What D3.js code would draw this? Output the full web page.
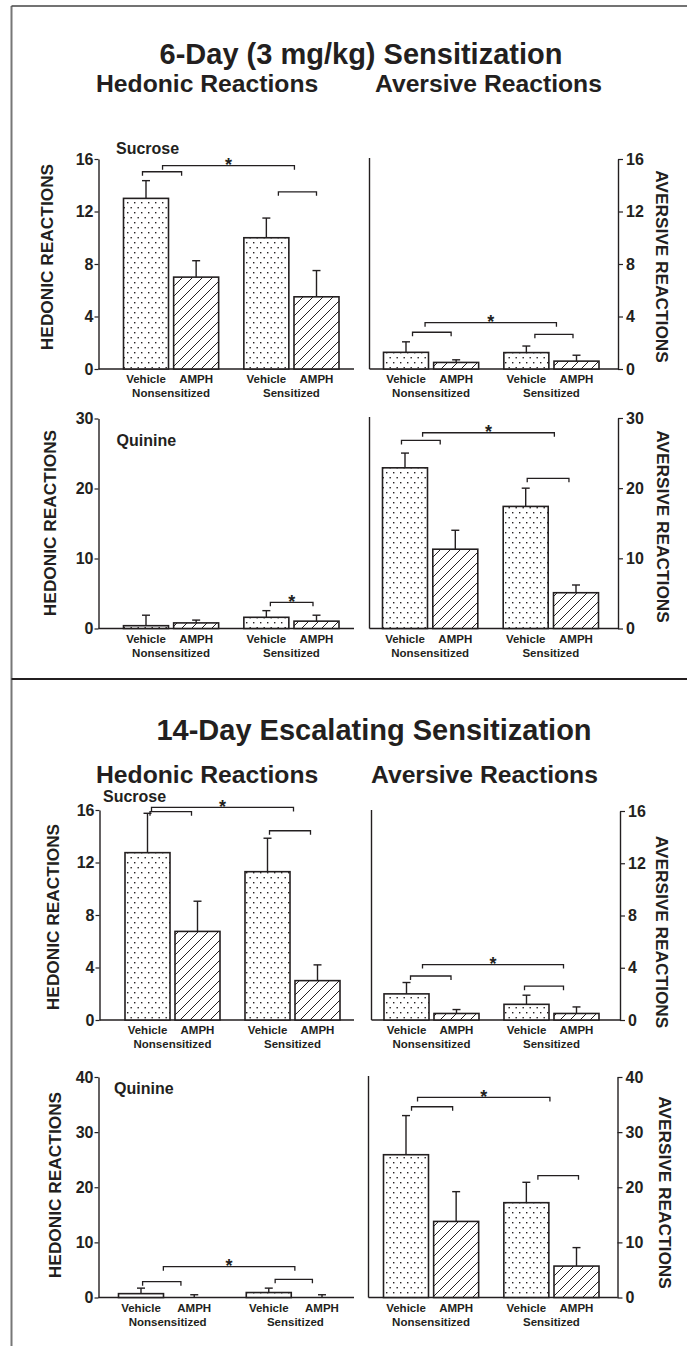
<!DOCTYPE html>
<html>
<head>
<meta charset="utf-8">
<script src="https://cdn.jsdelivr.net/npm/d3@7"></script>
<style>
    body { margin: 0; background: #fff; }
    svg { display: block; }
    text { font-family: "Liberation Sans", Arial, sans-serif; font-weight: bold; fill: #231f20; }
</style>
</head>
<body>
<div id="chart"></div>
<script>

// DATA

const treatments = ['Vehicle', 'AMPH', 'Vehicle', 'AMPH'];
const groups = ['Nonsensitized', 'Sensitized'];

// 6-day (3 mg/kg)
const sd_sucrose_hedonic = [13.0, 7.0, 10.0, 5.5];
const sd_sucrose_hedonic_sem = [1.35, 1.25, 1.5, 2.0];
const sd_sucrose_aversive = [1.27, 0.5, 1.25, 0.6];
const sd_sucrose_aversive_sem = [0.8, 0.2, 0.5, 0.45];
const sd_quinine_hedonic = [0.4, 0.8, 1.6, 1.05];
const sd_quinine_hedonic_sem = [1.5, 0.4, 0.95, 0.85];
const sd_quinine_aversive = [22.9, 11.3, 17.4, 5.1];
const sd_quinine_aversive_sem = [2.1, 2.7, 2.6, 1.1];

// 14-day escalating
const fd_sucrose_hedonic = [12.75, 6.75, 11.3, 3.0];
const fd_sucrose_hedonic_sem = [3.0, 2.3, 2.55, 1.2];
const fd_sucrose_aversive = [2.0, 0.5, 1.2, 0.5];
const fd_sucrose_aversive_sem = [0.87, 0.3, 0.7, 0.5];
const fd_quinine_hedonic = [0.7, 0, 0.9, 0];
const fd_quinine_hedonic_sem = [1.0, 0.5, 0.8, 0.5];
const fd_quinine_aversive = [25.9, 13.8, 17.2, 5.7];
const fd_quinine_aversive_sem = [7.1, 5.4, 3.7, 3.35];

const sucrose_ticks = [0, 4, 8, 12, 16];
const sd_quinine_ticks = [0, 10, 20, 30];
const fd_quinine_ticks = [0, 10, 20, 30, 40];

// significance brackets: [from slot, to slot, height, star]
const sd_sucrose_hedonic_brackets = [[-0.07, 0.71, 15.03, 0], [0.33, 2.96, 15.49, 1], [2.64, 3.40, 13.5, 0]];
const sd_sucrose_aversive_brackets = [[0.13, 0.90, 2.8, 0], [0.38, 3.0, 3.53, 1], [2.57, 3.33, 2.64, 0]];
const sd_quinine_hedonic_brackets = [[2.48, 3.33, 3.74, 1]];
const sd_quinine_aversive_brackets = [[-0.07, 0.70, 26.8, 0], [0.35, 2.97, 27.9, 1], [2.43, 3.26, 21.4, 0]];
const fd_sucrose_hedonic_brackets = [[0.05, 0.88, 15.87, 0], [0.08, 2.92, 16.2, 1], [2.44, 3.26, 14.42, 0]];
const fd_sucrose_aversive_brackets = [[0.08, 0.89, 3.37, 0], [0.32, 3.14, 4.24, 1], [2.36, 3.14, 2.59, 0]];
const fd_quinine_hedonic_brackets = [[0.03, 0.75, 2.87, 0], [0.42, 2.89, 5.59, 1], [2.52, 3.22, 3.3, 0]];
const fd_quinine_aversive_brackets = [[0.11, 0.93, 34.6, 0], [0.23, 2.87, 36.3, 1], [2.63, 3.44, 22.1, 0]];

//////////////////////////////////////////////

// CONFIG

const width = 687,
    height = 1346;

const slots = [0, 1, 2.4, 3.4];
const bar_width = 45;

const panels = [
    { vals: sd_sucrose_hedonic, sem: sd_sucrose_hedonic_sem, brackets: sd_sucrose_hedonic_brackets,
      side: 'left', ticks: sucrose_ticks, y0: 369, y1: 159, xr: [146, 316.5], axis_x: 98.5, axis_end: 354,
      name: 'Sucrose', name_pos: [116, 154], lab: [47, 257] },
    { vals: sd_sucrose_aversive, sem: sd_sucrose_aversive_sem, brackets: sd_sucrose_aversive_brackets,
      side: 'right', ticks: sucrose_ticks, y0: 369, y1: 159, xr: [406, 576.5], axis_x: 618, left_x: 369.5,
      lab: [662, 266.5] },
    { vals: sd_quinine_hedonic, sem: sd_quinine_hedonic_sem, brackets: sd_quinine_hedonic_brackets,
      side: 'left', ticks: sd_quinine_ticks, y0: 628.5, y1: 418.5, xr: [146, 316.5], axis_x: 98.5, axis_end: 354,
      name: 'Quinine', name_pos: [116.5, 446], lab: [50, 523] },
    { vals: sd_quinine_aversive, sem: sd_quinine_aversive_sem, brackets: sd_quinine_aversive_brackets,
      side: 'right', ticks: sd_quinine_ticks, y0: 628.5, y1: 418, xr: [405, 576], axis_x: 618, left_x: 369.5,
      lab: [663, 526.5] },
    { vals: fd_sucrose_hedonic, sem: fd_sucrose_hedonic_sem, brackets: fd_sucrose_hedonic_brackets,
      side: 'left', ticks: sucrose_ticks, y0: 1020, y1: 810, xr: [147.5, 317.5], axis_x: 99.5, axis_end: 354,
      name: 'Sucrose', name_pos: [103, 802], lab: [53, 917] },
    { vals: fd_sucrose_aversive, sem: fd_sucrose_aversive_sem, brackets: fd_sucrose_aversive_brackets,
      side: 'right', ticks: sucrose_ticks, y0: 1020, y1: 811, xr: [406.5, 576.5], axis_x: 620, left_x: 371.5,
      lab: [662.5, 932] },
    { vals: fd_quinine_hedonic, sem: fd_quinine_hedonic_sem, brackets: fd_quinine_hedonic_brackets,
      side: 'left', ticks: fd_quinine_ticks, y0: 1297.5, y1: 1077, xr: [141, 322], axis_x: 98.5, axis_end: 354,
      name: 'Quinine', name_pos: [114, 1094], lab: [55, 1185] },
    { vals: fd_quinine_aversive, sem: fd_quinine_aversive_sem, brackets: fd_quinine_aversive_brackets,
      side: 'right', ticks: fd_quinine_ticks, y0: 1297.5, y1: 1077, xr: [406, 576.5], axis_x: 617.5, left_x: 368.5,
      lab: [665, 1192.5] }
];

// D3

const svg = d3.select('#chart')
    .append('svg')
    .attr('width', width)
    .attr('height', height);

const defs = svg.append('defs');

const dots = defs.append('pattern')
    .attr('id', 'dots')
    .attr('patternUnits', 'userSpaceOnUse')
    .attr('width', 7)
    .attr('height', 10);
dots.append('rect').attr('width', 7).attr('height', 10).attr('fill', '#fff');
dots.append('rect').attr('x', 1).attr('y', 2).attr('width', 1.4).attr('height', 1.4).attr('fill', '#231f20');
dots.append('rect').attr('x', 4.5).attr('y', 7).attr('width', 1.4).attr('height', 1.4).attr('fill', '#231f20');

const hatch = defs.append('pattern')
    .attr('id', 'hatch')
    .attr('patternUnits', 'userSpaceOnUse')
    .attr('width', 10)
    .attr('height', 10);
hatch.append('rect').attr('width', 10).attr('height', 10).attr('fill', '#fff');
hatch.append('path')
    .attr('d', 'M-1,1 l2,-2 M0,10 l10,-10 M9,11 l2,-2')
    .attr('stroke', '#231f20')
    .attr('stroke-width', 1);

// frame
svg.append('line').attr('x1', 11.5).attr('x2', 11.5).attr('y1', 6).attr('y2', height)
    .attr('stroke', '#777').attr('stroke-width', 2);
svg.append('line').attr('x1', 11.5).attr('x2', width).attr('y1', 6).attr('y2', 6)
    .attr('stroke', '#444').attr('stroke-width', 1.5);
svg.append('line').attr('x1', 11.5).attr('x2', width).attr('y1', 679).attr('y2', 679)
    .attr('stroke', '#231f20').attr('stroke-width', 2);

// headings
const heading = (txt, x, y, size, anchor) => {
    svg.append('text')
        .attr('x', x)
        .attr('y', y)
        .attr('text-anchor', anchor)
        .style('font-size', `${size}px`)
        .text(txt);
}

heading('6-Day (3 mg/kg) Sensitization', 361, 64, 29, 'middle');
heading('Hedonic Reactions', 96, 92, 24.7, 'start');
heading('Aversive Reactions', 375, 92, 24.7, 'start');
heading('14-Day Escalating Sensitization', 374, 740, 29, 'middle');
heading('Hedonic Reactions', 96, 783, 24.7, 'start');
heading('Aversive Reactions', 371, 783, 24.7, 'start');

panels.forEach((p) => {

    const g = svg.append('g');

    const y_scale = d3.scaleLinear()
        .domain([p.ticks[0], p.ticks[p.ticks.length - 1]])
        .range([p.y0, p.y1]);

    const x_scale = d3.scaleLinear()
        .domain([slots[0], slots[slots.length - 1]])
        .range(p.xr);

    // axes
    if (p.side === 'left') {
        const y_axis = d3.axisLeft(y_scale)
            .tickValues(p.ticks)
            .tickSize(4)
            .tickPadding(1)
            .tickSizeOuter(0);
        g.append('g')
            .attr('transform', `translate(${p.axis_x}, 0)`)
            .call(y_axis);
        g.append('line')
            .attr('x1', p.axis_x).attr('x2', p.axis_end)
            .attr('y1', p.y0).attr('y2', p.y0);
    } else {
        const y_axis = d3.axisRight(y_scale)
            .tickValues(p.ticks)
            .tickSize(5)
            .tickPadding(3)
            .tickSizeOuter(0);
        g.append('g')
            .attr('transform', `translate(${p.axis_x}, 0)`)
            .call(y_axis);
        g.append('line')
            .attr('x1', p.left_x).attr('x2', p.axis_x)
            .attr('y1', p.y0).attr('y2', p.y0);
        g.append('line')
            .attr('x1', p.left_x).attr('x2', p.left_x)
            .attr('y1', p.y1 - 1).attr('y2', p.y0);
    }

    g.selectAll('line').attr('stroke', '#231f20').attr('stroke-width', 1.4);
    g.selectAll('.domain').attr('stroke', '#231f20').attr('stroke-width', 1.4);
    g.selectAll('.tick line').attr('stroke', '#231f20').attr('stroke-width', 1.2);
    g.selectAll('.tick text')
        .attr('fill', '#231f20')
        .style('font-family', '"Liberation Sans", Arial, sans-serif')
        .style('font-weight', 'bold')
        .style('font-size', '16px');

    // bars
    g.selectAll('rect.bar')
        .data(p.vals)
        .enter()
        .append('rect')
        .attr('class', 'bar')
        .attr('x', (d, i) => x_scale(slots[i]) - bar_width / 2)
        .attr('y', (d) => y_scale(d))
        .attr('width', bar_width)
        .attr('height', (d) => p.y0 - y_scale(d))
        .attr('fill', (d, i) => i % 2 === 0 ? 'url(#dots)' : 'url(#hatch)')
        .attr('stroke', '#231f20')
        .attr('stroke-width', 1.6);

    // error bars
    const err = g.selectAll('g.err')
        .data(p.vals)
        .enter()
        .append('g')
        .attr('class', 'err');

    err.append('line')
        .attr('x1', (d, i) => x_scale(slots[i]))
        .attr('x2', (d, i) => x_scale(slots[i]))
        .attr('y1', (d) => y_scale(d))
        .attr('y2', (d, i) => y_scale(d + p.sem[i]));
    err.append('line')
        .attr('x1', (d, i) => x_scale(slots[i]) - 4)
        .attr('x2', (d, i) => x_scale(slots[i]) + 4)
        .attr('y1', (d, i) => y_scale(d + p.sem[i]))
        .attr('y2', (d, i) => y_scale(d + p.sem[i]));
    err.selectAll('line').attr('stroke', '#231f20').attr('stroke-width', 1.4);

    // brackets
    p.brackets.forEach((b) => {
        const x1 = x_scale(b[0]),
            x2 = x_scale(b[1]),
            y = y_scale(b[2]);
        g.append('path')
            .attr('d', `M${x1},${y + 4}V${y}H${x2}V${y + 4}`)
            .attr('fill', 'none')
            .attr('stroke', '#231f20')
            .attr('stroke-width', 1.3);
        if (b[3]) {
            g.append('text')
                .attr('x', (x1 + x2) / 2)
                .attr('y', y + 5.5)
                .attr('text-anchor', 'middle')
                .style('font-size', '18px')
                .text('*');
        }
    });

    // category labels
    g.selectAll('text.treat')
        .data(treatments)
        .enter()
        .append('text')
        .attr('class', 'treat')
        .attr('x', (d, i) => x_scale(slots[i]))
        .attr('y', p.y0 + 14)
        .attr('text-anchor', 'middle')
        .style('font-size', '11.5px')
        .text((d) => d);

    g.selectAll('text.group')
        .data(groups)
        .enter()
        .append('text')
        .attr('class', 'group')
        .attr('x', (d, i) => x_scale((slots[i * 2] + slots[i * 2 + 1]) / 2))
        .attr('y', p.y0 + 28)
        .attr('text-anchor', 'middle')
        .style('font-size', '11.5px')
        .text((d) => d);

    // axis title
    g.append('text')
        .attr('transform', `translate(${p.lab[0]}, ${p.lab[1]}) rotate(${p.side === 'left' ? -90 : 90})`)
        .attr('text-anchor', 'middle')
        .attr('dy', '0.35em')
        .style('font-size', '17.3px')
        .text(p.side === 'left' ? 'HEDONIC REACTIONS' : 'AVERSIVE REACTIONS');

    if (p.name) {
        g.append('text')
            .attr('x', p.name_pos[0])
            .attr('y', p.name_pos[1])
            .style('font-size', '16px')
            .text(p.name);
    }
});

</script>
</body>
</html>
